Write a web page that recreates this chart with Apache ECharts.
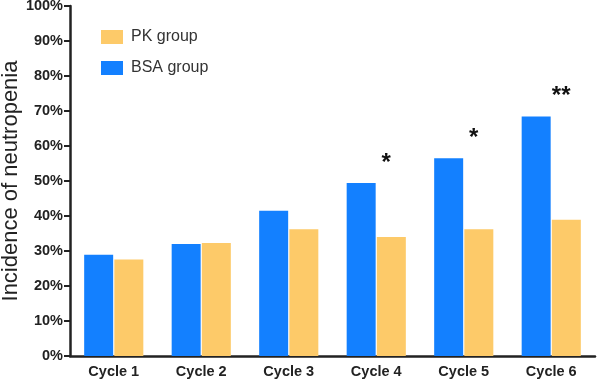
<!DOCTYPE html>
<html>
<head>
<meta charset="utf-8">
<script src="https://cdn.jsdelivr.net/npm/echarts@6/dist/echarts.min.js"></script>
<style>
html,body{margin:0;padding:0;background:#fff;}
#chart{width:598px;height:381px;}
</style>
</head>
<body>
<div id="chart"></div>
<script>
const categories = ['Cycle 1','Cycle 2','Cycle 3','Cycle 4','Cycle 5','Cycle 6'];
const bsaGroup = [28.9, 32.0, 41.5, 49.4, 56.5, 68.4];
const pkGroup = [27.6, 32.3, 36.2, 34.0, 36.2, 38.9];
const significance = ['', '', '', '*', '*', '**'];
const yTicks = [0, 10, 20, 30, 40, 50, 60, 70, 80, 90, 100];

const chart = echarts.init(document.getElementById('chart'));
const axisColor = '#222';
chart.setOption({
  animation: false,
  backgroundColor: '#fff',
  grid: { left: 70, right: 3, top: 6, bottom: 25, containLabel: false, outerBoundsMode: 'none' },
  legend: {
    data: ['PK group', 'BSA group'],
    orient: 'vertical',
    left: 101, top: 29, padding: 0,
    itemWidth: 22, itemHeight: 14, itemGap: 15,
    icon: 'rect',
    textStyle: { fontFamily: 'Liberation Sans, Arial', fontSize: 16, color: '#333', padding: [0,0,0,3] }
  },
  xAxis: {
    type: 'category',
    data: categories,
    axisLine: { lineStyle: { color: axisColor, width: 2.5 } },
    axisTick: { alignWithLabel: true, length: 5, lineStyle: { color: axisColor, width: 2 } },
    axisLabel: { fontFamily: 'Liberation Sans, Arial', fontWeight: 'bold', fontSize: 14.5, color: '#222', margin: 8 }
  },
  yAxis: {
    type: 'value',
    min: yTicks[0], max: yTicks[yTicks.length - 1], interval: yTicks[1] - yTicks[0],
    name: 'Incidence of neutropenia',
    nameLocation: 'middle',
    nameGap: 48,
    nameMoveOverlap: false,
    nameTextStyle: { fontFamily: 'Liberation Sans, Arial', fontSize: 22, color: '#222' },
    axisLine: { show: true, lineStyle: { color: axisColor, width: 2.5 } },
    axisTick: { show: true, length: 6, lineStyle: { color: axisColor, width: 2 } },
    splitLine: { show: false },
    axisLabel: { formatter: '{value}%', fontFamily: 'Liberation Sans, Arial', fontWeight: 'bold', fontSize: 14.5, color: '#222', margin: 7 }
  },
  series: [
    {
      name: 'BSA group', type: 'bar', barWidth: 29, barGap: '4%',
      itemStyle: { color: '#1380FF' },
      data: bsaGroup.map((v, i) => ({
        value: v,
        label: {
          show: significance[i] !== '', formatter: significance[i], position: 'top',
          offset: [25, -3], fontSize: 24, fontWeight: 'bold', color: '#111',
          fontFamily: 'Liberation Sans, Arial'
        }
      }))
    },
    {
      name: 'PK group', type: 'bar', barWidth: 29, barGap: '4%',
      itemStyle: { color: '#FDCA69' },
      data: pkGroup
    }
  ]
});
</script>
</body>
</html>
